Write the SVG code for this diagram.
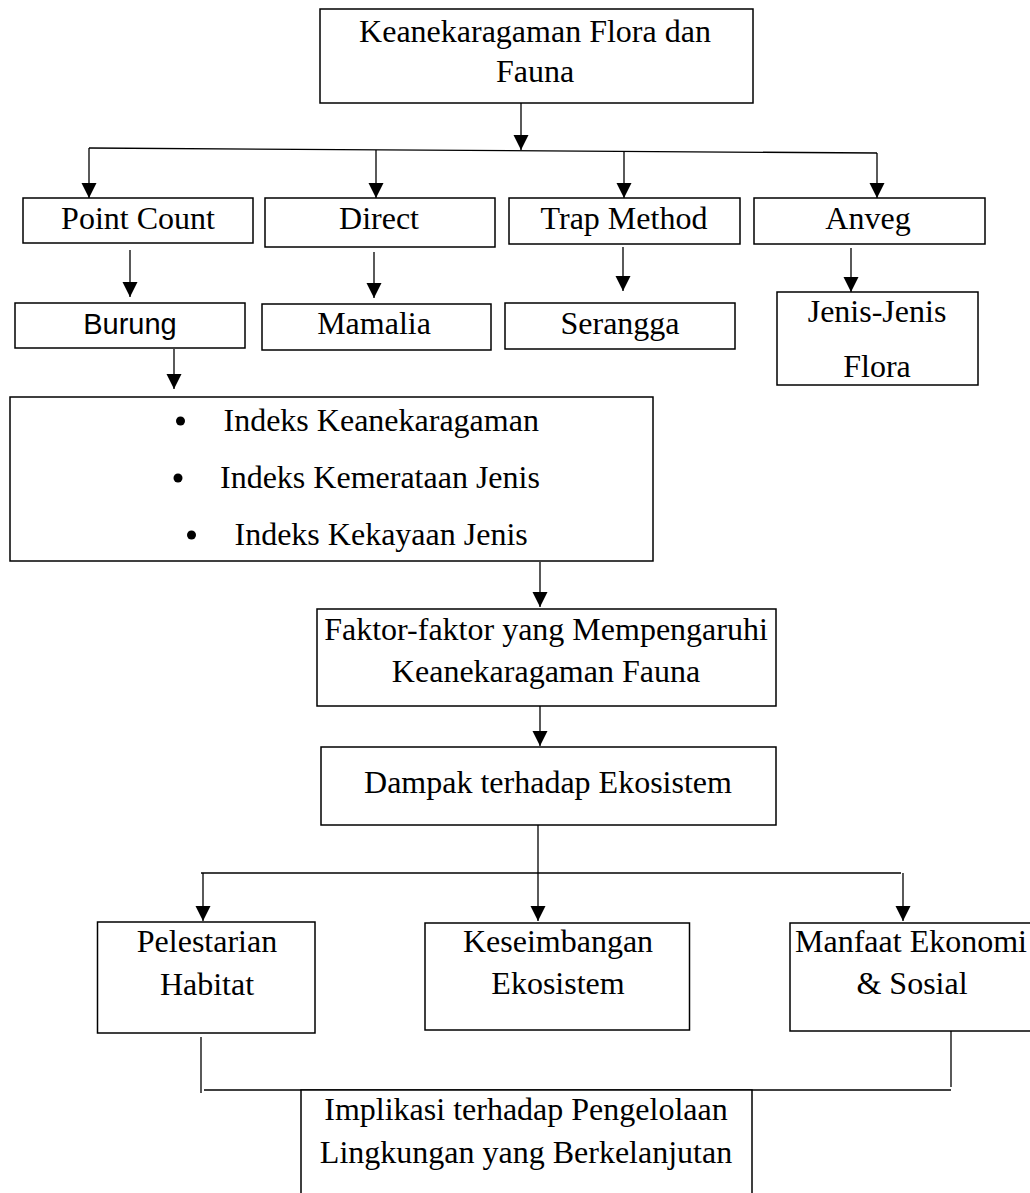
<svg xmlns="http://www.w3.org/2000/svg" width="1030" height="1193" viewBox="0 0 1030 1193">
<style>
.box{fill:#fff;stroke:#000;stroke-width:1.5}
.t{font-family:"Liberation Serif","Times New Roman",serif;font-size:32px;fill:#000;text-anchor:middle}
.ts{font-family:"Liberation Serif","Times New Roman",serif;font-size:32px;fill:#000}
.sans{font-family:"Liberation Sans",Arial,sans-serif;font-size:29px;fill:#000;text-anchor:middle}
.c{stroke:#000;stroke-width:1.3;fill:none}
.a{stroke:#000;stroke-width:1.3;fill:none;marker-end:url(#ah)}
</style>
<defs>
<marker id="ah" markerUnits="userSpaceOnUse" markerWidth="16" markerHeight="16" refX="15" refY="7.5" orient="auto">
<path d="M0,0 L15,7.5 L0,15 z" fill="#000"/>
</marker>
</defs>
<rect width="1030" height="1193" fill="#fff"/>
<g id="connectors">
<line class="a" x1="521" y1="103" x2="521" y2="150"/>
<line class="c" x1="89" y1="148" x2="877" y2="153"/>
<line class="a" x1="89" y1="148" x2="89" y2="198"/>
<line class="a" x1="376" y1="150" x2="376" y2="198"/>
<line class="a" x1="624" y1="151.5" x2="624" y2="198"/>
<line class="a" x1="877" y1="153" x2="877" y2="198"/>
<line class="a" x1="130" y1="250" x2="130" y2="297"/>
<line class="a" x1="374" y1="252" x2="374" y2="298"/>
<line class="a" x1="623" y1="247" x2="623" y2="291"/>
<line class="a" x1="851" y1="248" x2="851" y2="292"/>
<line class="a" x1="174" y1="349" x2="174" y2="389"/>
<line class="a" x1="540" y1="562" x2="540" y2="607"/>
<line class="a" x1="540" y1="706" x2="540" y2="746"/>
<line class="a" x1="538" y1="825" x2="538" y2="921"/>
<line class="c" x1="201" y1="873" x2="901" y2="873"/>
<line class="a" x1="203" y1="873" x2="203" y2="921"/>
<line class="a" x1="903" y1="873" x2="903" y2="921"/>
<line class="c" x1="201" y1="1037" x2="201" y2="1093"/>
<line class="c" x1="951" y1="1031" x2="951" y2="1087"/>
<line class="c" x1="204" y1="1090" x2="951" y2="1090"/>
</g>
<g id="n-main">
<rect class="box" x="320" y="9" width="433" height="94"/>
<text class="t" x="535" y="42">Keanekaragaman Flora dan</text>
<text class="t" x="535" y="82">Fauna</text>
</g>
<g id="n-pointcount">
<rect class="box" x="23" y="198" width="230" height="45"/>
<text class="t" x="138" y="229">Point Count</text>
</g>
<g id="n-direct">
<rect class="box" x="265" y="198" width="230" height="49"/>
<text class="t" x="379" y="229">Direct</text>
</g>
<g id="n-trap">
<rect class="box" x="509" y="198" width="231" height="46"/>
<text class="t" x="624" y="229">Trap Method</text>
</g>
<g id="n-anveg">
<rect class="box" x="754" y="198" width="231" height="46"/>
<text class="t" x="868" y="229">Anveg</text>
</g>
<g id="n-burung">
<rect class="box" x="15" y="303" width="230" height="45"/>
<text class="sans" x="130" y="334">Burung</text>
</g>
<g id="n-mamalia">
<rect class="box" x="262" y="304" width="229" height="46"/>
<text class="t" x="374" y="334">Mamalia</text>
</g>
<g id="n-serangga">
<rect class="box" x="505" y="303" width="230" height="46"/>
<text class="t" x="620" y="334">Serangga</text>
</g>
<g id="n-jenis">
<rect class="box" x="777" y="292" width="201" height="93"/>
<text class="t" x="877" y="322">Jenis-Jenis</text>
<text class="t" x="877" y="377">Flora</text>
</g>
<g id="n-indeks">
<rect class="box" x="10" y="397" width="643" height="164"/>
<circle cx="180.5" cy="421" r="4.5"/>
<text class="ts" x="223.5" y="431">Indeks Keanekaragaman</text>
<circle cx="178" cy="478" r="4.5"/>
<text class="ts" x="220" y="488">Indeks Kemerataan Jenis</text>
<circle cx="191.5" cy="535" r="4.5"/>
<text class="ts" x="234.5" y="545">Indeks Kekayaan Jenis</text>
</g>
<g id="n-faktor">
<rect class="box" x="317" y="609" width="459" height="97"/>
<text class="t" x="546" y="640">Faktor-faktor yang Mempengaruhi</text>
<text class="t" x="546" y="682">Keanekaragaman Fauna</text>
</g>
<g id="n-dampak">
<rect class="box" x="321" y="747" width="455" height="78"/>
<text class="t" x="548" y="793">Dampak terhadap Ekosistem</text>
</g>
<g id="n-pelestarian">
<rect class="box" x="97.5" y="922" width="217.5" height="111"/>
<text class="t" x="207" y="952">Pelestarian</text>
<text class="t" x="207" y="995">Habitat</text>
</g>
<g id="n-keseimbangan">
<rect class="box" x="425" y="923" width="264.5" height="107"/>
<text class="t" x="558" y="952">Keseimbangan</text>
<text class="t" x="558" y="994">Ekosistem</text>
</g>
<g id="n-manfaat">
<rect class="box" x="790" y="923" width="250" height="108"/>
<text class="t" x="911" y="952">Manfaat Ekonomi</text>
<text class="t" x="912" y="994">&amp; Sosial</text>
</g>
<g id="n-implikasi">
<rect class="box" x="301" y="1090" width="451" height="115"/>
<text class="t" x="526" y="1120">Implikasi terhadap Pengelolaan</text>
<text class="t" x="526" y="1163">Lingkungan yang Berkelanjutan</text>
</g>
</svg>
